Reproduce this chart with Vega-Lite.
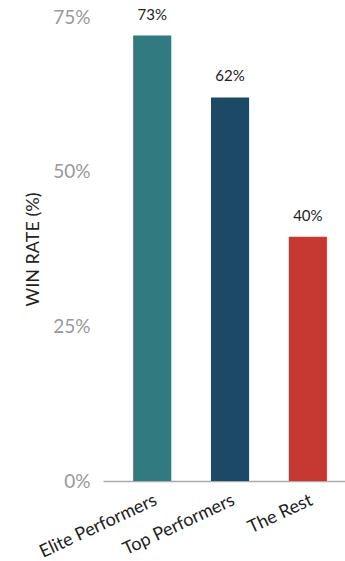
{
  "$schema": "https://vega.github.io/schema/vega-lite/v6.json",
  "autosize": "none",
  "padding": {"left": 103, "top": 17, "right": 0, "bottom": 80},
  "width": 242,
  "height": 464,
  "background": "white",
  "data": {"values": [
    {"group": "Elite Performers", "rate": 72, "label": "73%"},
    {"group": "Top Performers", "rate": 62, "label": "62%"},
    {"group": "The Rest", "rate": 39.5, "label": "40%"}
  ]},
  "config": {"view": {"stroke": null}, "font": "Lato"},
  "encoding": {
    "x": {"field": "group", "type": "nominal", "sort": null,
      "scale": {"paddingInner": 0.51, "paddingOuter": 0.31, "align": 0.625},
      "axis": {"title": null, "labelAngle": -25, "labelFontSize": 18, "labelColor": "#222", "labelFont": "Lato",
        "ticks": false, "domainColor": "#aaaaaa", "domainWidth": 1.5, "labelPadding": 10, "grid": false}},
    "y": {"field": "rate", "type": "quantitative",
      "scale": {"domain": [0, 75], "nice": false},
      "axis": {"values": [0, 25, 50, 75], "format": ".0f", "labelExpr": "datum.label + '%'",
        "title": "WIN RATE (%)", "titleFontSize": 18, "titleFontWeight": "normal", "titleColor": "#222", "titleFont": "Lato",
        "labelFontSize": 19, "labelColor": "#999999", "labelFont": "Lato", "labelPadding": 13,
        "domain": false, "ticks": false, "grid": false, "titlePadding": 10}}
  },
  "layer": [
    {"mark": {"type": "bar"},
     "encoding": {"color": {"field": "group", "type": "nominal", "legend": null,
       "scale": {"domain": ["Elite Performers", "Top Performers", "The Rest"], "range": ["#317B80", "#1C4966", "#C63932"]}}}},
    {"mark": {"type": "text", "dy": -13, "fontSize": 15, "color": "#222", "font": "Lato", "baseline": "bottom"},
     "encoding": {"text": {"field": "label"}}}
  ]
}
